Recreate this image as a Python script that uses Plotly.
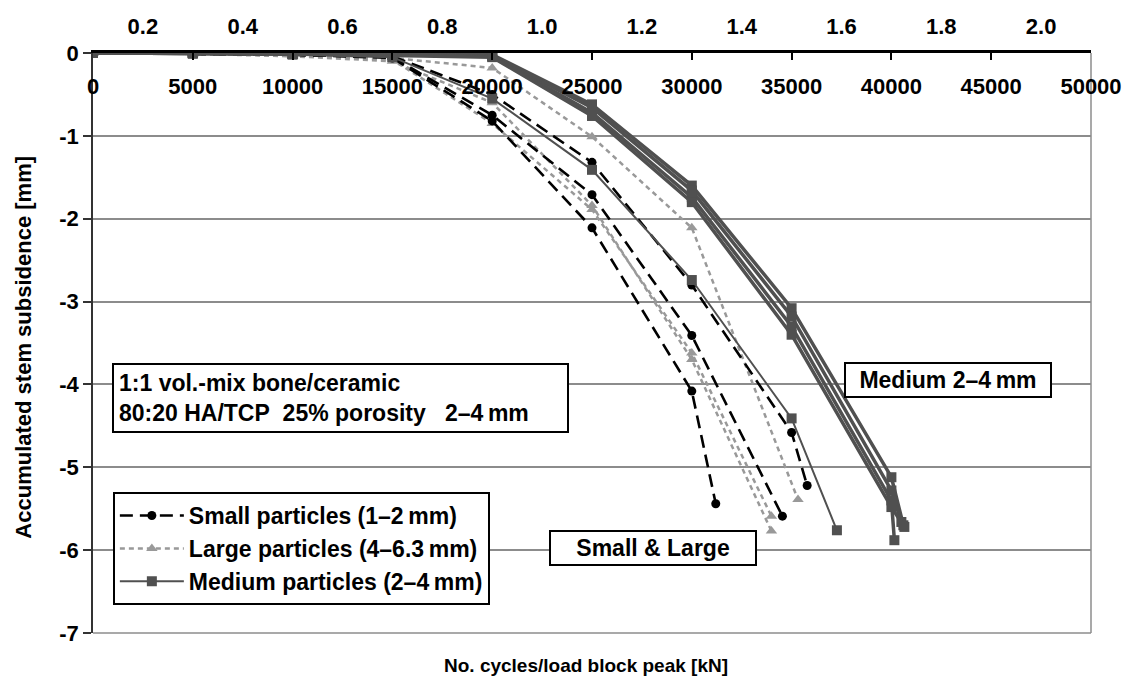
import plotly.graph_objects as go

# ---------------- data ----------------
x_ticks = [0, 5000, 10000, 15000, 20000, 25000, 30000, 35000, 40000, 45000, 50000]
x_tick_text = ["0", "5000", "10000", "15000", "20000", "25000", "30000", "35000", "40000", "45000", "50000"]
load_pos = [2500, 7500, 12500, 17500, 22500, 27500, 32500, 37500, 42500, 47500]
load_text = ["0.2", "0.4", "0.6", "0.8", "1.0", "1.2", "1.4", "1.6", "1.8", "2.0"]
y_ticks = [0, -1, -2, -3, -4, -5, -6, -7]
y_tick_text = ["0", "-1", "-2", "-3", "-4", "-5", "-6", "-7"]

# Small particles (1-2 mm)
small_1_x = [0, 5000, 10000, 15000, 20000, 25000, 30000, 31200]
small_1_y = [0, -0.01, -0.02, -0.06, -0.82, -2.11, -4.08, -5.44]
small_2_x = [0, 5000, 10000, 15000, 20000, 25000, 30000, 34540]
small_2_y = [0, -0.01, -0.02, -0.05, -0.75, -1.71, -3.41, -5.59]
small_3_x = [0, 5000, 10000, 15000, 20000, 25000, 30000, 35000, 35780]
small_3_y = [0, -0.01, -0.02, -0.04, -0.50, -1.32, -2.80, -4.58, -5.22]

# Large particles (4-6.3 mm)
large_1_x = [0, 5000, 10000, 15000, 20000, 25000, 30000, 35320]
large_1_y = [0, -0.01, -0.03, -0.06, -0.18, -1.01, -2.11, -5.39]
large_2_x = [0, 5000, 10000, 15000, 20000, 25000, 30000, 33990]
large_2_y = [0, -0.01, -0.03, -0.08, -0.85, -1.89, -3.62, -5.59]
large_3_x = [0, 5000, 10000, 15000, 20000, 25000, 30000, 33990]
large_3_y = [0, -0.01, -0.04, -0.10, -0.60, -1.84, -3.70, -5.77]

# Medium particles (2-4 mm)
med_1_x = [0, 5000, 10000, 15000, 20000, 25000, 30000, 35000, 40000, 40600]
med_1_y = [0, 0, -0.01, -0.02, -0.02, -0.62, -1.60, -3.08, -5.12, -5.70]
med_2_x = [0, 5000, 10000, 15000, 20000, 25000, 30000, 35000, 40000, 40500]
med_2_y = [0, 0, -0.01, -0.02, -0.03, -0.66, -1.66, -3.18, -5.28, -5.66]
med_3_x = [0, 5000, 10000, 15000, 20000, 25000, 30000, 35000, 40000, 40150]
med_3_y = [0, 0, -0.01, -0.02, -0.04, -0.72, -1.74, -3.30, -5.40, -5.88]
med_4_x = [0, 5000, 10000, 15000, 20000, 25000, 30000, 35000, 40000, 40650]
med_4_y = [0, 0, -0.01, -0.03, -0.05, -0.76, -1.80, -3.40, -5.48, -5.72]
med_5_x = [0, 5000, 10000, 15000, 20000, 25000, 30000, 35000, 37270]
med_5_y = [0, -0.01, -0.02, -0.05, -0.55, -1.41, -2.74, -4.41, -5.76]

FONT = "Liberation Sans, Arial, sans-serif"
C_SMALL = "#000000"
C_LARGE = "#999999"
C_MED = "#505050"

fig = go.Figure()

def add(xs, ys, name, group, color, dash, width, symbol, msize, show, rank):
    fig.add_trace(go.Scatter(
        x=xs, y=ys, name=name, legendgroup=group, showlegend=show, legendrank=rank,
        mode="lines+markers",
        line=dict(color=color, dash=dash, width=width),
        marker=dict(symbol=symbol, size=msize, color=color),
        hoverinfo="skip",
    ))

large_name = "Large particles (4\u20136.3\u2009mm)"
small_name = "Small particles (1\u20132\u2009mm)"
med_name = "Medium particles (2\u20134\u2009mm)"

add(large_1_x, large_1_y, large_name, "L", C_LARGE, "5px,4px", 2.5, "triangle-up", 10, True, 2)
add(large_2_x, large_2_y, large_name, "L", C_LARGE, "5px,4px", 2.5, "triangle-up", 10, False, 2)
add(large_3_x, large_3_y, large_name, "L", C_LARGE, "5px,4px", 2.5, "triangle-up", 10, False, 2)
add(small_1_x, small_1_y, small_name, "S", C_SMALL, "13px,7px", 2.6, "circle", 9, True, 1)
add(small_2_x, small_2_y, small_name, "S", C_SMALL, "13px,7px", 2.6, "circle", 9, False, 1)
add(small_3_x, small_3_y, small_name, "S", C_SMALL, "13px,7px", 2.6, "circle", 9, False, 1)
add(med_5_x, med_5_y, med_name, "M", C_MED, "solid", 2, "square", 10, True, 3)
add(med_1_x, med_1_y, med_name, "M", C_MED, "solid", 3.5, "square", 10, False, 3)
add(med_2_x, med_2_y, med_name, "M", C_MED, "solid", 3.5, "square", 10, False, 3)
add(med_3_x, med_3_y, med_name, "M", C_MED, "solid", 3.5, "square", 10, False, 3)
add(med_4_x, med_4_y, med_name, "M", C_MED, "solid", 3.5, "square", 10, False, 3)

# invisible helper so the secondary (load) axis is drawn
fig.add_trace(go.Scatter(x=load_pos, y=[0] * len(load_pos), xaxis="x2", yaxis="y",
                         mode="markers", marker=dict(opacity=0), showlegend=False,
                         hoverinfo="skip"))

NB = "\u00a0"

fig.update_layout(
    width=1134, height=679,
    margin=dict(l=93, r=34, t=53, b=46),
    paper_bgcolor="white", plot_bgcolor="white",
    font=dict(family=FONT, size=22, color="black", weight="bold"),
    showlegend=True,
    legend=dict(
        x=0.0199, y=0.243, xanchor="left", yanchor="top",
        bordercolor="black", borderwidth=2, bgcolor="white",
        font=dict(family=FONT, size=23, color="black", weight="bold"),
        itemwidth=64, tracegroupgap=0,
    ),
    xaxis=dict(
        range=[0, 50000], side="top",
        tickmode="array", tickvals=x_ticks, ticktext=x_tick_text,
        ticks="inside", ticklen=7, tickwidth=2, tickcolor="black",
        ticklabelposition="inside", ticklabeloverflow="allow",
        ticklabelstandoff=20,
        showline=True, linecolor="black", linewidth=2.5,
        showgrid=False, zeroline=False,
        tickfont=dict(family=FONT, size=22, color="black", weight="bold"),
    ),
    xaxis2=dict(
        range=[0, 50000], side="top", overlaying="x", anchor="y",
        tickmode="array", tickvals=load_pos, ticktext=load_text,
        ticks="", showline=False, showgrid=False, zeroline=False,
        ticklabelstandoff=14,
        tickfont=dict(family=FONT, size=22, color="black", weight="bold"),
    ),
    yaxis=dict(
        range=[-7, 0],
        tickmode="array", tickvals=y_ticks, ticktext=y_tick_text,
        ticks="outside", ticklen=8, tickwidth=1.5, tickcolor="#333333",
        ticklabelstandoff=0,
        showline=True, linecolor="#333333", linewidth=1.5,
        showgrid=True, gridcolor="#8c8c8c", gridwidth=1.5,
        zeroline=False,
        tickfont=dict(family=FONT, size=22, color="black", weight="bold"),
    ),
    shapes=[
        dict(type="line", xref="paper", yref="paper", x0=1, x1=1, y0=0, y1=1,
             line=dict(color="#8c8c8c", width=1.5), layer="below"),
        dict(type="line", xref="paper", yref="paper", x0=0, x1=1, y0=0, y1=0,
             line=dict(color="#8c8c8c", width=1.5), layer="below"),
    ],
    annotations=[
        dict(text="1:1 vol.-mix bone/ceramic<br>80:20 HA/TCP" + NB * 2 + "25% porosity" + NB * 3 + "2\u20134\u2009mm",
             xref="paper", yref="paper", x=(112 - 93) / 1007, y=(633 - 363) / 580,
             xanchor="left", yanchor="top",
             align="left", showarrow=False, bgcolor="white", bordercolor="black",
             borderwidth=2, borderpad=5, width=443,
             font=dict(family=FONT, size=23, color="black", weight="bold")),
        dict(text="Medium 2\u20134\u2009mm",
             xref="paper", yref="paper", x=(956 - 93) / 1007, y=(633 - 380) / 580,
             xanchor="center", yanchor="middle", showarrow=False, bgcolor="white",
             bordercolor="black", borderwidth=2, borderpad=3, width=198,
             font=dict(family=FONT, size=23, color="black", weight="bold")),
        dict(text="Small &amp; Large",
             xref="paper", yref="paper", x=(658 - 93) / 1007, y=(633 - 548) / 580,
             xanchor="center", yanchor="middle", showarrow=False, bgcolor="white",
             bordercolor="black", borderwidth=2, borderpad=3, width=198,
             font=dict(family=FONT, size=23, color="black", weight="bold")),
        dict(text="No. cycles/load block peak [kN]",
             xref="paper", yref="paper", x=0.494, y=(633 - 665) / 580,
             xanchor="center", yanchor="middle", showarrow=False,
             font=dict(family=FONT, size=19, color="black", weight="bold")),
        dict(text="Accumulated stem subsidence [mm]",
             xref="paper", yref="paper", x=(22 - 93) / 1007, y=(633 - 347) / 580,
             xanchor="center", yanchor="middle", textangle=-90, showarrow=False,
             font=dict(family=FONT, size=22, color="black", weight="bold")),
    ],
)

fig.write_html("out.html")
